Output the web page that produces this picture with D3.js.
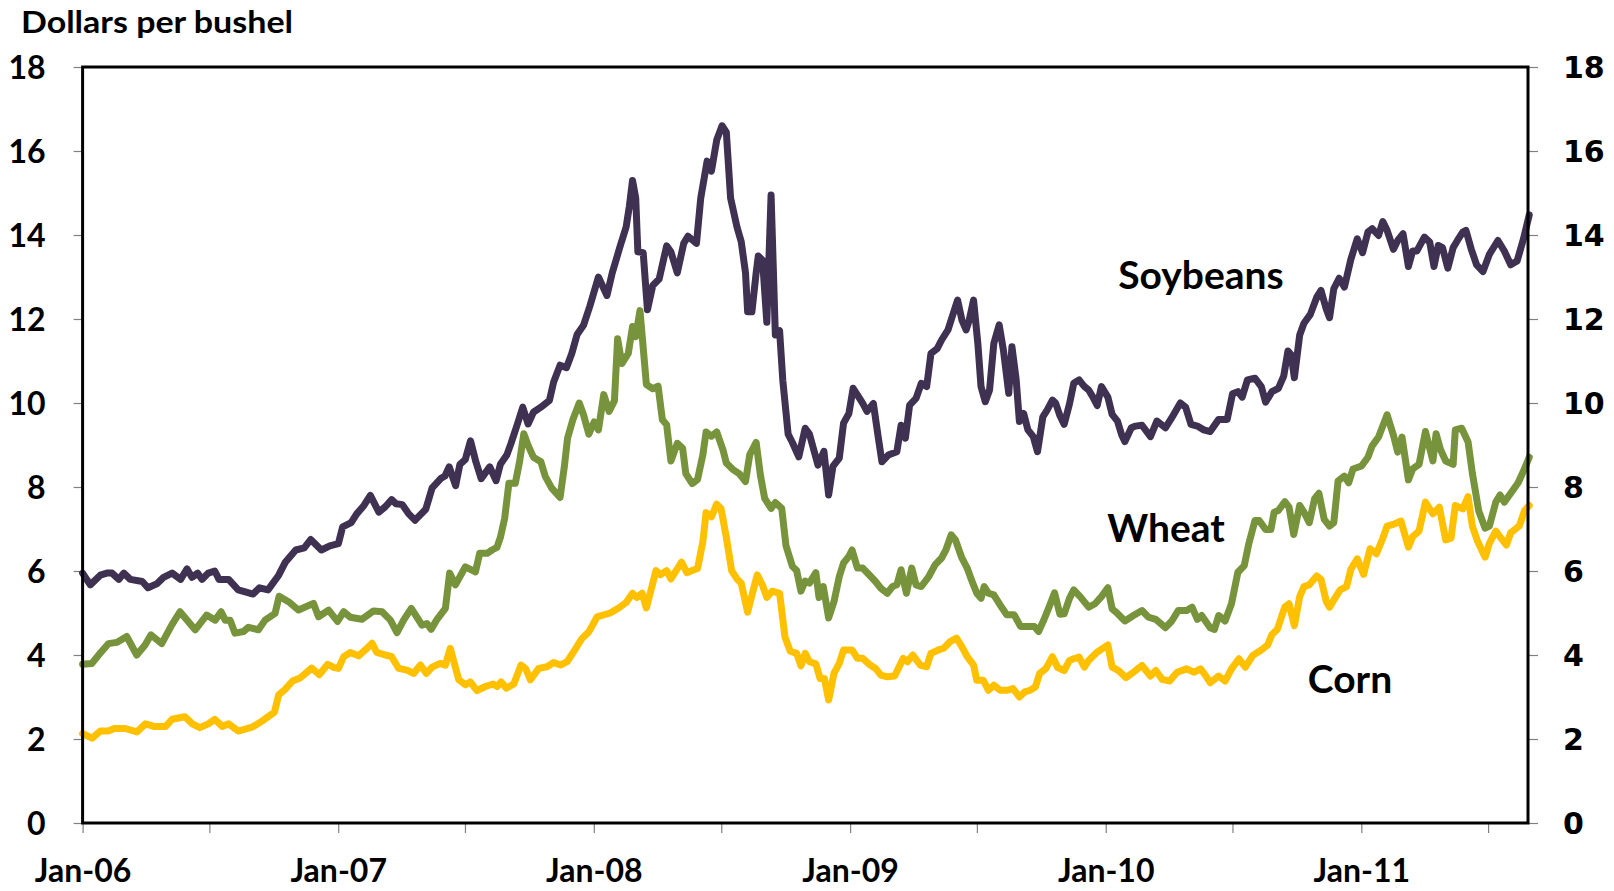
<!DOCTYPE html>
<html><head><meta charset="utf-8">
<script src="https://cdn.jsdelivr.net/npm/d3@7"></script>
<style>body{margin:0;background:#fff}svg{display:block}</style>
</head><body>
<svg id="chart" width="1614" height="891"></svg>
<script>
// Time values are months elapsed after 1 Jan 2006; prices in dollars per bushel.
const soybeans = [[0,5.95],[0.36,5.67],[0.83,5.9],[1.14,5.95],[1.38,5.95],[1.7,5.8],[1.93,5.95],[2.24,5.8],[2.8,5.75],[3.07,5.6],[3.5,5.7],[3.8,5.85],[4.2,5.95],[4.6,5.8],[4.9,6.05],[5.13,5.85],[5.4,5.95],[5.6,5.8],[5.9,5.95],[6.2,6.0],[6.4,5.8],[6.85,5.8],[7.3,5.55],[8.0,5.45],[8.3,5.6],[8.7,5.55],[9.2,5.9],[9.5,6.2],[10.0,6.5],[10.4,6.55],[10.7,6.75],[11.2,6.5],[11.6,6.6],[12.0,6.65],[12.2,7.05],[12.6,7.15],[12.86,7.36],[13.2,7.56],[13.5,7.8],[13.9,7.4],[14.2,7.53],[14.5,7.7],[14.7,7.6],[15.0,7.58],[15.3,7.36],[15.6,7.21],[16.1,7.47],[16.4,7.98],[16.8,8.2],[17.0,8.26],[17.2,8.48],[17.5,8.03],[17.7,8.54],[17.95,8.65],[18.2,9.1],[18.45,8.6],[18.7,8.2],[19.1,8.48],[19.4,8.15],[19.6,8.54],[19.9,8.76],[20.1,9.04],[20.4,9.5],[20.65,9.9],[20.9,9.5],[21.15,9.78],[21.5,9.9],[21.9,10.06],[22.1,10.5],[22.4,10.9],[22.7,10.84],[22.95,11.18],[23.2,11.63],[23.5,11.85],[23.8,12.31],[24.2,13.0],[24.6,12.56],[24.85,13.1],[25.2,13.7],[25.5,14.19],[25.65,14.68],[25.8,15.3],[25.95,14.88],[26.05,13.6],[26.3,13.58],[26.5,12.22],[26.75,12.8],[27.05,12.95],[27.4,13.74],[27.6,13.6],[27.9,13.1],[28.2,13.8],[28.4,13.97],[28.8,13.8],[29.0,14.88],[29.3,15.76],[29.5,15.52],[29.75,16.26],[30.0,16.6],[30.2,16.45],[30.4,14.88],[30.7,14.19],[30.9,13.84],[31.1,13.1],[31.2,12.17],[31.4,12.17],[31.6,13.1],[31.7,13.5],[31.9,13.4],[32.1,11.92],[32.3,14.95],[32.5,11.62],[32.7,11.72],[32.85,10.54],[33.1,9.26],[33.3,9.06],[33.6,8.72],[33.9,9.4],[34.1,9.26],[34.5,8.52],[34.78,8.85],[35.0,7.81],[35.2,8.49],[35.5,8.69],[35.7,9.52],[35.95,9.75],[36.15,10.35],[36.4,10.15],[36.6,9.99],[36.8,9.8],[37.1,9.99],[37.3,9.28],[37.5,8.6],[37.8,8.76],[38.2,8.84],[38.4,9.47],[38.6,9.16],[38.8,9.95],[39.1,10.11],[39.35,10.47],[39.6,10.39],[39.8,11.18],[40.1,11.3],[40.3,11.5],[40.6,11.74],[40.8,12.06],[41.05,12.45],[41.25,11.98],[41.45,11.74],[41.6,11.98],[41.8,12.45],[42.0,11.42],[42.15,10.39],[42.35,10.03],[42.55,10.31],[42.75,11.42],[43.0,11.86],[43.2,11.26],[43.45,10.23],[43.6,11.34],[43.8,10.55],[43.95,9.56],[44.15,9.75],[44.35,9.36],[44.6,9.2],[44.8,8.84],[45.05,9.67],[45.25,9.83],[45.5,10.07],[45.65,10.0],[45.85,9.7],[46.05,9.49],[46.3,9.98],[46.5,10.47],[46.75,10.55],[47.0,10.39],[47.2,10.31],[47.4,10.14],[47.6,9.94],[47.8,10.39],[48.1,10.14],[48.3,9.73],[48.55,9.57],[48.75,9.24],[48.9,9.08],[49.2,9.41],[49.4,9.45],[49.7,9.47],[50.1,9.2],[50.4,9.57],[50.8,9.41],[51.1,9.65],[51.5,10.0],[51.75,9.9],[52.0,9.49],[52.3,9.45],[52.6,9.36],[52.9,9.32],[53.3,9.61],[53.7,9.61],[53.95,10.22],[54.2,10.27],[54.4,10.14],[54.65,10.55],[55.0,10.59],[55.3,10.39],[55.5,10.02],[55.8,10.27],[56.1,10.35],[56.35,10.64],[56.55,11.24],[56.7,11.15],[56.85,10.6],[57.1,11.62],[57.3,11.9],[57.6,12.11],[57.9,12.52],[58.1,12.68],[58.35,12.23],[58.5,12.03],[58.7,12.72],[58.95,12.97],[59.2,12.76],[59.5,13.42],[59.8,13.91],[60.05,13.58],[60.3,14.07],[60.5,14.15],[60.8,13.99],[61.0,14.32],[61.2,14.11],[61.5,13.66],[61.7,13.87],[61.95,14.03],[62.2,13.25],[62.4,13.62],[62.6,13.62],[62.95,13.95],[63.2,13.83],[63.4,13.25],[63.6,13.75],[63.8,13.7],[64.05,13.21],[64.3,13.7],[64.5,13.87],[64.75,14.07],[64.9,14.11],[65.15,13.66],[65.4,13.29],[65.7,13.13],[66.0,13.54],[66.4,13.87],[66.7,13.62],[67.0,13.29],[67.3,13.38],[67.6,13.91],[67.87,14.48]];

const wheat = [[0,3.78],[0.43,3.8],[0.82,4.04],[1.21,4.27],[1.6,4.3],[2.07,4.44],[2.54,4.0],[2.93,4.24],[3.21,4.48],[3.71,4.27],[4.18,4.71],[4.57,5.03],[5.28,4.6],[5.82,4.95],[6.22,4.83],[6.5,5.03],[6.69,4.83],[6.92,4.83],[7.15,4.52],[7.55,4.56],[7.78,4.66],[8.25,4.6],[8.56,4.83],[9.03,4.99],[9.22,5.4],[9.66,5.27],[10.13,5.07],[10.83,5.23],[11.07,4.91],[11.54,5.07],[11.96,4.8],[12.25,5.03],[12.56,4.9],[13.1,4.85],[13.65,5.05],[14.05,5.03],[14.44,4.83],[14.75,4.53],[15.06,4.83],[15.42,5.11],[15.72,4.87],[15.92,4.71],[16.16,4.75],[16.35,4.61],[16.63,4.85],[17.02,5.11],[17.22,5.95],[17.49,5.67],[17.96,6.1],[18.43,5.98],[18.63,6.42],[18.98,6.42],[19.21,6.5],[19.44,6.56],[19.6,6.8],[19.8,7.25],[20.0,8.09],[20.3,8.09],[20.5,8.6],[20.7,9.27],[20.9,8.99],[21.15,8.71],[21.5,8.6],[21.7,8.26],[22.0,7.98],[22.4,7.75],[22.6,8.48],[22.75,9.16],[23.0,9.6],[23.3,10.0],[23.5,9.72],[23.75,9.26],[24.0,9.55],[24.2,9.36],[24.45,10.2],[24.7,9.8],[24.95,10.05],[25.1,11.53],[25.3,10.94],[25.6,11.18],[25.8,11.82],[25.95,11.58],[26.15,12.2],[26.45,10.44],[26.75,10.34],[27.0,10.4],[27.2,9.6],[27.4,9.48],[27.6,8.62],[27.9,9.04],[28.15,8.92],[28.3,8.32],[28.6,8.08],[28.85,8.18],[29.1,8.77],[29.25,9.31],[29.5,9.21],[29.75,9.31],[30.05,8.87],[30.2,8.57],[30.5,8.42],[30.8,8.32],[31.1,8.13],[31.3,8.77],[31.6,9.06],[31.8,8.28],[32.0,7.73],[32.3,7.49],[32.5,7.63],[32.8,7.49],[33.0,6.6],[33.3,6.11],[33.5,6.01],[33.7,5.52],[33.9,5.76],[34.1,5.71],[34.4,5.96],[34.55,5.37],[34.75,5.63],[35.0,4.88],[35.25,5.27],[35.5,5.87],[35.7,6.19],[35.95,6.35],[36.1,6.5],[36.35,6.07],[36.6,6.07],[36.9,5.91],[37.2,5.75],[37.45,5.59],[37.75,5.47],[38.0,5.63],[38.2,5.67],[38.4,6.03],[38.65,5.47],[38.9,6.07],[39.1,5.67],[39.35,5.63],[39.7,5.87],[40.0,6.15],[40.3,6.31],[40.5,6.5],[40.75,6.86],[40.95,6.74],[41.25,6.31],[41.5,6.07],[41.7,5.79],[41.95,5.47],[42.15,5.35],[42.3,5.63],[42.5,5.47],[42.75,5.43],[43.05,5.19],[43.35,4.96],[43.7,4.96],[44.0,4.68],[44.3,4.68],[44.65,4.68],[44.85,4.56],[45.1,4.84],[45.35,5.15],[45.6,5.48],[45.85,4.97],[46.05,4.98],[46.3,5.35],[46.5,5.55],[46.8,5.39],[47.2,5.14],[47.5,5.22],[47.8,5.39],[48.1,5.6],[48.3,5.1],[48.55,4.99],[48.9,4.81],[49.3,4.94],[49.7,5.06],[50.0,4.9],[50.35,4.85],[50.8,4.65],[51.1,4.81],[51.4,5.06],[51.8,5.06],[52.05,5.14],[52.3,4.85],[52.5,4.94],[52.9,4.65],[53.1,4.61],[53.3,4.94],[53.6,4.81],[53.9,5.22],[54.2,5.97],[54.5,6.13],[54.7,6.62],[55.0,7.2],[55.2,7.2],[55.5,6.99],[55.75,6.99],[55.9,7.4],[56.1,7.44],[56.4,7.65],[56.6,7.52],[56.82,6.87],[57.1,7.56],[57.3,7.4],[57.55,7.15],[57.8,7.72],[58.0,7.85],[58.25,7.23],[58.5,7.07],[58.7,7.15],[58.9,8.14],[59.2,8.26],[59.4,8.1],[59.6,8.43],[60.0,8.5],[60.3,8.71],[60.5,8.98],[60.8,9.19],[61.2,9.72],[61.5,9.23],[61.7,8.83],[61.9,9.19],[62.2,8.17],[62.4,8.43],[62.7,8.54],[63.0,9.32],[63.35,8.62],[63.5,9.27],[63.7,8.9],[63.95,8.62],[64.3,8.54],[64.4,9.36],[64.7,9.4],[65.0,9.07],[65.2,8.33],[65.5,7.43],[65.8,7.02],[66.0,7.07],[66.3,7.64],[66.5,7.81],[66.7,7.64],[67.0,7.85],[67.35,8.1],[67.6,8.38],[67.87,8.71]];

const corn = [[0,2.13],[0.45,2.02],[0.83,2.19],[1.2,2.19],[1.5,2.25],[2.0,2.25],[2.55,2.17],[2.95,2.36],[3.35,2.3],[3.9,2.3],[4.2,2.47],[4.8,2.53],[5.15,2.36],[5.5,2.27],[5.9,2.36],[6.2,2.47],[6.55,2.3],[6.85,2.36],[7.3,2.19],[7.95,2.28],[8.4,2.42],[9.0,2.64],[9.2,3.05],[9.5,3.18],[9.85,3.38],[10.2,3.45],[10.75,3.69],[11.1,3.53],[11.5,3.78],[11.8,3.7],[12.0,3.68],[12.25,3.96],[12.56,4.06],[12.95,3.98],[13.26,4.12],[13.58,4.28],[13.8,4.06],[14.2,4.0],[14.5,3.96],[14.83,3.68],[15.22,3.64],[15.53,3.56],[15.85,3.76],[16.13,3.56],[16.4,3.71],[16.78,3.8],[17.02,3.76],[17.25,4.16],[17.44,3.8],[17.65,3.41],[17.96,3.29],[18.19,3.36],[18.5,3.15],[18.9,3.25],[19.26,3.31],[19.45,3.25],[19.63,3.36],[19.88,3.21],[20.23,3.31],[20.57,3.76],[20.78,3.68],[21.01,3.41],[21.4,3.68],[21.79,3.72],[22.1,3.82],[22.42,3.76],[22.73,3.84],[23.04,4.08],[23.44,4.4],[23.75,4.55],[24.14,4.91],[24.75,5.0],[25.15,5.12],[25.5,5.25],[25.8,5.47],[26.0,5.37],[26.25,5.47],[26.45,5.12],[26.7,5.61],[26.9,6.01],[27.1,5.91],[27.4,6.01],[27.6,5.81],[28.1,6.21],[28.35,5.96],[28.6,6.01],[28.85,6.06],[29.1,6.7],[29.25,7.39],[29.5,7.29],[29.75,7.59],[29.95,7.49],[30.2,6.8],[30.45,6.01],[30.7,5.81],[30.9,5.71],[31.2,5.02],[31.4,5.42],[31.65,5.91],[31.9,5.66],[32.1,5.37],[32.35,5.52],[32.7,5.47],[32.95,4.43],[33.2,4.09],[33.5,4.04],[33.7,3.74],[33.9,4.04],[34.1,3.84],[34.4,3.79],[34.6,3.44],[34.8,3.44],[35.0,2.93],[35.25,3.56],[35.5,3.8],[35.7,4.12],[36.1,4.12],[36.35,3.92],[36.6,3.92],[36.95,3.76],[37.2,3.68],[37.45,3.52],[37.75,3.48],[38.1,3.5],[38.5,3.92],[38.7,3.84],[38.95,4.0],[39.3,3.76],[39.6,3.72],[39.8,4.04],[40.15,4.12],[40.4,4.16],[40.7,4.32],[41.0,4.4],[41.25,4.2],[41.5,3.96],[41.8,3.76],[41.95,3.4],[42.25,3.4],[42.5,3.16],[42.75,3.28],[43.05,3.16],[43.4,3.16],[43.65,3.2],[43.95,3.0],[44.2,3.12],[44.45,3.16],[44.7,3.24],[44.9,3.56],[45.2,3.68],[45.5,3.96],[45.75,3.7],[46.05,3.63],[46.3,3.87],[46.5,3.91],[46.75,3.95],[47.0,3.71],[47.2,3.87],[47.6,4.07],[48.1,4.24],[48.3,3.71],[48.6,3.63],[48.95,3.46],[49.3,3.59],[49.7,3.75],[50.1,3.5],[50.35,3.63],[50.65,3.42],[51.0,3.38],[51.35,3.59],[51.8,3.67],[52.15,3.59],[52.45,3.67],[52.7,3.5],[52.9,3.34],[53.3,3.5],[53.6,3.38],[53.9,3.67],[54.25,3.91],[54.55,3.71],[54.9,3.99],[55.3,4.12],[55.6,4.24],[55.8,4.49],[56.05,4.61],[56.4,5.14],[56.6,5.22],[56.85,4.7],[57.1,5.39],[57.3,5.63],[57.55,5.67],[57.9,5.88],[58.1,5.8],[58.35,5.27],[58.5,5.14],[58.8,5.39],[59.0,5.55],[59.3,5.63],[59.5,6.04],[59.8,6.29],[60.1,5.92],[60.4,6.53],[60.7,6.41],[61.0,6.78],[61.2,7.07],[61.5,7.11],[61.85,7.19],[62.2,6.57],[62.4,6.82],[62.7,6.95],[63.0,7.64],[63.35,7.36],[63.65,7.52],[63.95,6.74],[64.2,6.78],[64.4,7.56],[64.75,7.48],[65.0,7.77],[65.2,7.07],[65.45,6.7],[65.8,6.33],[66.0,6.66],[66.3,6.95],[66.55,6.78],[66.8,6.62],[67.0,6.91],[67.4,7.07],[67.65,7.44],[67.87,7.56]];

const seriesNames = ["Corn", "Wheat", "Soybeans"];
const seriesColors = ["#FFC000", "#77933C", "#3F3151"];
const yTicks = [0, 2, 4, 6, 8, 10, 12, 14, 16, 18];
const yTitle = "Dollars per bushel";
const startDate = new Date(2006, 0, 1);
const endDate = new Date(2011, 7, 27);

const plot = {left: 82.6, right: 1528, top: 67, bottom: 823};
const svg = d3.select("#chart");

const toDate = m => new Date(+startDate + m * (365.25 / 12) * 864e5);
const x = d3.scaleTime().domain([startDate, endDate]).range([plot.left, plot.right]);
const y = d3.scaleLinear().domain([0, 18]).range([plot.bottom, plot.top]);

const fontCal = "Lato, 'Open Sans', sans-serif";

// title
svg.append("text").attr("x", 21).attr("y", 33)
  .attr("font-family", fontCal).attr("font-weight", 700).attr("font-size", 31)
  .attr("textLength", 272).attr("lengthAdjust", "spacingAndGlyphs")
  .attr("fill", "#000").text(yTitle);

// left axis
const leftAxis = d3.axisLeft(y).tickValues(yTicks).tickSize(9).tickPadding(28).tickSizeOuter(0);
const gl = svg.append("g").attr("transform", `translate(${plot.left},0)`).call(leftAxis);
gl.select(".domain").remove();
gl.selectAll(".tick line").attr("stroke", "#808080").attr("stroke-width", 1.2);
gl.selectAll(".tick text").attr("font-family", fontCal).attr("font-weight", 700)
  .attr("font-size", 32).attr("fill", "#000").attr("dy", "0.36em");

// right axis
const rightAxis = d3.axisRight(y).tickValues(yTicks).tickSize(10).tickPadding(25).tickSizeOuter(0);
const gr = svg.append("g").attr("transform", `translate(${plot.right},0)`).call(rightAxis);
gr.select(".domain").remove();
gr.selectAll(".tick line").attr("stroke", "#808080").attr("stroke-width", 1.2);
gr.selectAll(".tick text").attr("font-family", "'DejaVu Sans', Verdana, sans-serif").attr("font-weight", 700)
  .attr("font-size", 30).attr("fill", "#000").attr("dy", "0.36em");

// bottom axis
const xTickDates = d3.timeMonth.every(6).range(startDate, endDate);
const bottomAxis = d3.axisBottom(x).tickValues(xTickDates).tickSize(10).tickSizeOuter(0)
  .tickFormat(d => d.getMonth() === 0 ? d3.timeFormat("%b-%y")(d) : "");
const gb = svg.append("g").attr("transform", `translate(0,${plot.bottom})`).call(bottomAxis);
gb.select(".domain").remove();
gb.selectAll(".tick line").attr("stroke", "#808080").attr("stroke-width", 1.2);
gb.selectAll(".tick text").attr("font-family", fontCal).attr("font-weight", 700)
  .attr("font-size", 32).attr("fill", "#000").attr("y", 0).attr("dy", 0)
  .attr("transform", "translate(0,59)");

// lines
const line = d3.line().x(d => x(toDate(d[0]))).y(d => y(d[1]));
const seriesData = [corn, wheat, soybeans];
svg.append("g").selectAll("path").data(seriesData).join("path")
  .attr("d", line).attr("fill", "none")
  .attr("stroke", (d, i) => seriesColors[i]).attr("stroke-width", 7)
  .attr("stroke-linejoin", "round").attr("stroke-linecap", "round");

// frame
svg.append("rect").attr("x", plot.left).attr("y", plot.top)
  .attr("width", plot.right - plot.left).attr("height", plot.bottom - plot.top)
  .attr("fill", "none").attr("stroke", "#000").attr("stroke-width", 3);

// series labels
const labelPos = {Soybeans: [1201, 289], Wheat: [1166, 542], Corn: [1350, 693]};
svg.append("g").selectAll("text").data(seriesNames).join("text")
  .attr("x", d => labelPos[d][0]).attr("y", d => labelPos[d][1])
  .attr("text-anchor", "middle").attr("font-family", fontCal).attr("font-weight", 700)
  .attr("font-size", 39).attr("fill", "#000").text(d => d);
</script>
</body></html>
